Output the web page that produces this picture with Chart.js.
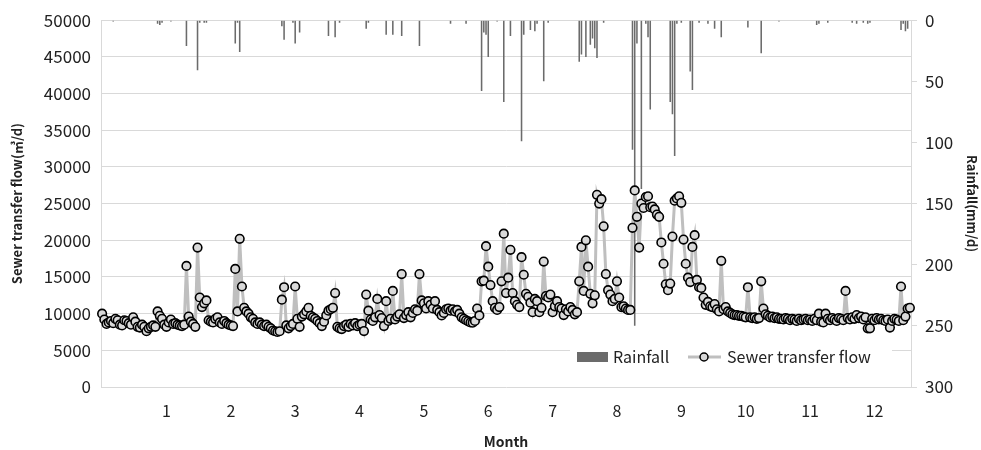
<!DOCTYPE html>
<html>
<head>
<meta charset="utf-8">
<script src="https://cdn.jsdelivr.net/npm/chart.js@4"></script>
<style>
  html, body { margin: 0; padding: 0; background: #fff; }
</style>
</head>
<body>
<canvas id="myChart" width="981" height="450"></canvas>
<script>
// month labels and the day index where each is shown
const monthLabels = ['1', '2', '3', '4', '5', '6', '7', '8', '9', '10', '11', '12'];
const monthTickDay = [29, 58, 87, 116, 145, 174, 203, 232, 261, 290, 319, 348];

// daily sewer transfer flow (m3/d)
const flow = [
  10000, 9200, 8600, 8800, 9000, 8700, 9300, 9100, 8500, 8400,
  9100, 9000, 8700, 8500, 9500, 8900, 8200, 8100, 8500, 8200,
  7600, 8000, 8200, 8400, 8200, 10300, 9700, 9300, 8500, 8200,
  8800, 9200, 8600, 8700, 8500, 8400, 8300, 8500, 16500, 9600,
  8900, 8600, 8200, 19000, 12200, 10900, 11400, 11800, 9100, 8900,
  8800, 9300, 9500, 8800, 8600, 9000, 8700, 8500, 8400, 8300,
  16100, 10300, 20200, 13700, 10800, 10300, 10000, 9500, 9300, 8800,
  8600, 8800, 8500, 8300, 8500, 8200, 8000, 7700, 7600, 7500,
  7600, 11900, 13600, 8400, 8000, 8300, 8600, 13700, 9300, 8200,
  9600, 9900, 10300, 10800, 9700, 9500, 9300, 9000, 8700, 8300,
  8900, 9750, 10400, 10600, 10800, 12800, 8200, 8000, 7900, 8300,
  8500, 8200, 8600, 8400, 8700, 8300, 8500, 8600, 7630, 12600,
  10400, 9200, 9000, 9500, 12000, 9800, 9400, 8300, 11700, 9000,
  9300, 13100, 9200, 9600, 9900, 15400, 9400, 9800, 10200, 9500,
  10100, 10600, 10400, 15400, 11800, 11400, 10700, 11700, 11200, 10700,
  11700, 10500, 10200, 9750, 10100, 10600, 10700, 10400, 10600, 10300,
  10500, 10000, 9500, 9300, 9100, 8950, 8800, 8770, 9000, 10700,
  9750, 14400, 14500, 19200, 16400, 13900, 11700, 10800, 10500, 10900,
  14400, 20900, 12800, 14900, 18700, 12800, 11700, 11200, 10900, 17700,
  15300, 12700, 12300, 11500, 10200, 12000, 11700, 10200, 10800, 17100,
  12400, 12200, 12600, 10200, 11000, 11700, 10900, 10700, 9800, 10600,
  10300, 10900, 10500, 9900, 10200, 14400, 19100, 13100, 20000, 16400,
  12700, 11400, 12500, 26200, 25000, 25600, 21900, 15400, 13200, 12600,
  11700, 12000, 14400, 12200, 10900, 11000, 10700, 10500, 10500, 21700,
  26800, 23200, 19000, 25000, 24400, 25900, 26000, 24500, 24600, 24200,
  23500, 23200, 19700, 16800, 14000, 13200, 14100, 20500, 25400, 25700,
  26000, 25100, 20100, 16800, 14900, 14300, 19100, 20700, 14600, 13600,
  13500, 12200, 11200, 11600, 11000, 10900, 11300, 10600, 10300, 17200,
  10600, 10900, 10300, 10100, 9900, 9800, 9800, 9700, 9700, 9600,
  9500, 13600, 9500, 9400, 9500, 9300, 9400, 14400, 10700, 9900,
  9700, 9500, 9600, 9400, 9500, 9300, 9300, 9200, 9400, 9300,
  9100, 9300, 9200, 9000, 9300, 9100, 9200, 9300, 9100, 9200,
  9000, 9300, 9100, 10000, 8900, 8800, 10000, 9300, 9100, 9400,
  9200, 9000, 9400, 9300, 9100, 13100, 9400, 9200, 9500, 9300,
  9800, 9400, 9600, 9200, 9500, 8000, 8000, 9300, 9100, 9400,
  9200, 9300, 9100, 9000, 9200, 8100, 9000, 9300, 9200, 9000,
  13700, 9100, 9600, 10700, 10800
];

// rainy days (day index) and rainfall (mm/d)
const rainIndex = [5, 25, 26, 27, 31, 38, 43, 44, 46, 47, 60, 61, 62,
  81, 82, 86, 87, 89, 102, 105, 107, 119, 120, 128, 131, 135, 143,
  157, 164, 171, 172, 173, 174, 178, 181, 184, 189, 190, 193, 195, 196, 199, 201,
  215, 216, 218, 220, 221, 222, 223, 226, 239, 240, 241, 243, 245, 246, 247,
  256, 257, 258, 259, 261, 265, 266, 269, 273, 276, 279, 291, 297, 305,
  322, 323, 327, 338, 340, 343, 345, 346, 360, 361, 362, 363];
const rainMm = [1, 3, 4, 2, 1, 21, 41, 2, 2, 2, 19, 2, 26,
  5, 16, 2, 19, 10, 13, 14, 2, 7, 2, 12, 12, 13, 21,
  3, 3, 58, 10, 12, 30, 1, 67, 13, 99, 12, 8, 9, 3, 50, 2,
  34, 28, 30, 20, 15, 23, 31, 2, 106, 250, 19, 138, 3, 14, 73,
  67, 77, 111, 3, 2, 42, 57, 2, 3, 7, 14, 6, 27, 1,
  4, 3, 2, 2, 3, 2, 3, 2, 8, 3, 9, 7];

const days = flow.map((v, i) => i + 1);
const rainfall = flow.map(() => 0);
rainIndex.forEach((d, k) => { rainfall[d] = rainMm[k]; });

Chart.defaults.font.family = '"Noto Sans CJK KR", "Noto Sans", sans-serif';
Chart.defaults.color = '#222';

// legend drawn inside the plot, like the original
const legendBox = {
  id: 'legendBox',
  afterDraw(chart) {
    const ctx = chart.ctx;
    ctx.save();
    ctx.fillStyle = '#fff';
    ctx.fillRect(570, 341, 322, 32);
    ctx.fillStyle = '#6b6b6b';
    ctx.fillRect(577, 352, 31, 10);
    ctx.font = '16px "Noto Sans CJK KR", "Noto Sans", sans-serif';
    ctx.fillStyle = '#222';
    ctx.textBaseline = 'middle';
    ctx.fillText('Rainfall', 613, 357);
    ctx.strokeStyle = '#bfbfbf';
    ctx.lineWidth = 3;
    ctx.beginPath();
    ctx.moveTo(688, 357);
    ctx.lineTo(721, 357);
    ctx.stroke();
    ctx.beginPath();
    ctx.arc(704, 357, 4, 0, Math.PI * 2);
    ctx.fillStyle = '#d9d9d9';
    ctx.fill();
    ctx.lineWidth = 1.5;
    ctx.strokeStyle = '#000';
    ctx.stroke();
    ctx.fillStyle = '#222';
    ctx.fillText('Sewer transfer flow', 727, 357);
    ctx.restore();
  }
};

const ctx = document.getElementById('myChart').getContext('2d');
new Chart(ctx, {
  type: 'bar',
  data: {
    labels: days,
    datasets: [
      {
        type: 'line',
        label: 'Sewer transfer flow',
        data: flow,
        yAxisID: 'y',
        order: 0,
        borderColor: '#bfbfbf',
        borderWidth: 3,
        pointRadius: 4.3,
        pointBackgroundColor: '#d9d9d9',
        pointBorderColor: '#000',
        pointBorderWidth: 1.6,
        tension: 0
      },
      {
        label: 'Rainfall',
        data: rainfall,
        yAxisID: 'y2',
        order: 1,
        backgroundColor: '#6b6b6b',
        barPercentage: 0.7,
        categoryPercentage: 1
      }
    ]
  },
  options: {
    responsive: false,
    animation: false,
    devicePixelRatio: 1,
    layout: { padding: { top: 18 } },
    plugins: {
      legend: { display: false },
      tooltip: { enabled: false }
    },
    scales: {
      x: {
        grid: { display: false, drawTicks: false },
        border: { display: false },
        ticks: {
          autoSkip: false,
          maxRotation: 0,
          padding: 14,
          font: { size: 16 },
          callback: (val, idx) => {
            const k = monthTickDay.indexOf(idx);
            return k >= 0 ? monthLabels[k] : '';
          }
        },
        title: {
          display: true,
          text: 'Month',
          font: { size: 14, weight: 'bold' },
          padding: { top: 0, bottom: 0 }
        },
        afterFit: s => { s.height = 63; }
      },
      y: {
        position: 'left',
        min: 0,
        max: 50000,
        ticks: {
          stepSize: 5000,
          padding: 10,
          font: { size: 17 },
          callback: v => String(v)
        },
        grid: { color: '#d9d9d9', drawTicks: false },
        border: { color: '#d9d9d9' },
        title: {
          display: true,
          text: 'Sewer transfer flow(㎥/d)',
          font: { size: 13, weight: 'bold' },
          padding: { top: 9, bottom: 0 }
        },
        afterFit: s => { s.width = 101; }
      },
      y2: {
        position: 'right',
        reverse: true,
        min: 0,
        max: 300,
        ticks: { stepSize: 50, padding: 8, font: { size: 17 } },
        grid: { drawOnChartArea: false, color: '#d9d9d9', tickLength: 6 },
        border: { color: '#d9d9d9' },
        title: {
          display: true,
          text: 'Rainfall(mm/d)',
          font: { size: 13, weight: 'bold' },
          padding: { top: 1, bottom: 0 }
        },
        afterFit: s => { s.width = 70; }
      }
    }
  },
  plugins: [legendBox]
});
</script>
</body>
</html>
